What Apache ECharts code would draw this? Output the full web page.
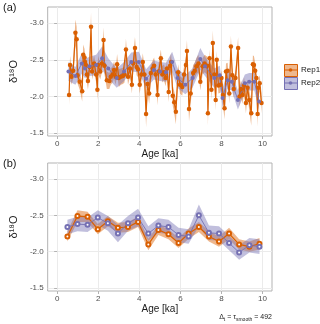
<!DOCTYPE html>
<html>
<head>
<meta charset="utf-8">
<script src="https://cdn.jsdelivr.net/npm/echarts@6/dist/echarts.min.js"></script>
<style>
  html, body { margin: 0; padding: 0; background: #fff; }
  #chart { width: 320px; height: 324px; }
</style>
</head>
<body>
<div id="chart"></div>
<script>
// panel (a): raw records
const rep1Age = [
  0.58, 0.63, 0.70, 0.78, 0.89, 0.95, 0.99, 1.10, 1.22, 1.27,
  1.33, 1.36, 1.40, 1.45, 1.50, 1.58, 1.65, 1.70, 1.80, 1.90,
  1.96, 1.99, 2.10, 2.18, 2.26, 2.30, 2.42, 2.54, 2.61, 2.70,
  2.77, 2.85, 2.92, 3.00, 3.10, 3.20, 3.28, 3.35, 3.45, 3.55,
  3.64, 3.70, 3.79, 3.87, 3.94, 4.02, 4.10, 4.17, 4.25, 4.33,
  4.40, 4.48, 4.56, 4.65, 4.72, 4.80, 4.89, 4.94, 5.05, 5.12,
  5.20, 5.28, 5.35, 5.43, 5.50, 5.55, 5.63, 5.70, 5.78, 5.89,
  5.98, 6.09, 6.18, 6.27, 6.32, 6.42, 6.50, 6.62, 6.70, 6.78,
  6.88, 6.97, 7.08, 7.18, 7.31, 7.34, 7.42, 7.51, 7.58, 7.65,
  7.72, 7.77, 7.85, 7.95, 8.00, 8.07, 8.15, 8.22, 8.30, 8.38,
  8.46, 8.53, 8.60, 8.68, 8.81, 8.88, 8.95, 9.02, 9.10, 9.19,
  9.27, 9.35, 9.45, 9.53, 9.58, 9.64, 9.70, 9.76, 9.80, 9.86,
  9.95
]
const rep1Val = [
  -2.02, -2.43, -2.27, -2.35, -2.87, -2.78, -2.29, -2.20, -2.07, -2.57,
  -2.53, -2.47, -2.43, -2.30, -2.21, -2.40, -2.95, -2.34, -2.45, -2.30,
  -2.09, -2.43, -2.34, -2.45, -2.77, -2.42, -2.22, -2.21, -2.27, -2.30,
  -2.36, -2.27, -2.44, -2.25, -2.27, -2.28, -2.30, -2.64, -2.27, -2.38,
  -2.16, -2.45, -2.66, -2.40, -2.37, -2.16, -2.30, -2.47, -2.30, -1.76,
  -2.17, -2.04, -2.32, -2.38, -2.42, -2.30, -2.02, -2.34, -2.52, -2.30,
  -2.33, -2.25, -2.38, -2.06, -2.42, -2.47, -2.01, -1.92, -1.79, -2.33,
  -2.16, -2.13, -2.30, -2.43, -2.62, -1.83, -2.04, -2.32, -2.35, -2.41,
  -2.45, -2.20, -2.41, -2.45, -2.42, -1.77, -2.52, -2.09, -2.73, -2.30,
  -1.95, -2.50, -2.15, -2.16, -2.25, -2.02, -1.84, -2.34, -2.35, -2.04,
  -2.68, -2.29, -2.10, -2.25, -2.66, -2.00, -2.10, -2.02, -2.15, -1.91,
  -2.12, -1.95, -1.77, -2.44, -2.43, -2.35, -2.25, -1.76, -2.12, -2.18,
  -1.91
]
const rep1Err = [
  0.14, 0.12, 0.11, 0.11, 0.18, 0.17, 0.11, 0.11, 0.14, 0.14,
  0.12, 0.11, 0.11, 0.11, 0.12, 0.12, 0.19, 0.11, 0.11, 0.11,
  0.14, 0.12, 0.11, 0.12, 0.17, 0.11, 0.12, 0.11, 0.11, 0.11,
  0.12, 0.11, 0.14, 0.12, 0.11, 0.11, 0.11, 0.15, 0.11, 0.11,
  0.12, 0.12, 0.15, 0.11, 0.11, 0.12, 0.11, 0.12, 0.11, 0.18,
  0.12, 0.14, 0.11, 0.11, 0.11, 0.11, 0.14, 0.11, 0.12, 0.11,
  0.11, 0.11, 0.11, 0.14, 0.11, 0.12, 0.14, 0.15, 0.17, 0.11,
  0.12, 0.12, 0.11, 0.12, 0.15, 0.17, 0.14, 0.11, 0.11, 0.11,
  0.12, 0.12, 0.11, 0.12, 0.12, 0.17, 0.12, 0.14, 0.17, 0.11,
  0.14, 0.12, 0.11, 0.11, 0.11, 0.14, 0.15, 0.11, 0.11, 0.14,
  0.15, 0.11, 0.12, 0.11, 0.15, 0.14, 0.12, 0.12, 0.11, 0.14,
  0.11, 0.14, 0.17, 0.12, 0.12, 0.11, 0.11, 0.17, 0.12, 0.11,
  0.14
]

const rep2Age = [
  0.55, 0.89, 1.20, 1.35, 1.57, 1.90, 2.19, 2.49, 2.90, 3.26,
  3.61, 3.98, 4.33, 4.71, 5.01, 5.30, 5.60, 5.86, 6.24, 6.59,
  6.97, 7.20, 7.65, 7.92, 8.05, 8.30, 8.50, 8.80, 9.14, 9.35,
  9.60, 9.83
]
const rep2Val = [
  -2.34, -2.28, -2.45, -2.38, -2.41, -2.43, -2.52, -2.38, -2.25, -2.34,
  -2.47, -2.47, -2.24, -2.36, -2.34, -2.33, -2.47, -2.25, -2.16, -2.25,
  -2.51, -2.41, -2.25, -2.29, -1.98, -2.22, -2.20, -1.95, -2.18, -2.20,
  -2.20, -1.93
]
const rep2Err = [
  0.13, 0.12, 0.14, 0.13, 0.13, 0.14, 0.16, 0.14, 0.13, 0.13,
  0.13, 0.14, 0.13, 0.13, 0.13, 0.13, 0.14, 0.13, 0.13, 0.13,
  0.15, 0.13, 0.13, 0.13, 0.13, 0.12, 0.12, 0.13, 0.12, 0.12,
  0.12, 0.12
]

// panel (b): smoothed records
const smAge = [0.50, 0.99, 1.48, 1.98, 2.47, 2.96, 3.45, 3.94, 4.44, 4.93,
  5.42, 5.91, 6.40, 6.90, 7.39, 7.88, 8.37, 8.86, 9.36, 9.85]
const rep1Sm = [-2.21, -2.49, -2.48, -2.31, -2.42, -2.33, -2.34, -2.41, -2.10, -2.30,
  -2.24, -2.12, -2.25, -2.34, -2.21, -2.14, -2.25, -2.10, -2.07, -2.11]
const rep1SmErr = [0.07, 0.08, 0.07, 0.07, 0.07, 0.07, 0.07, 0.07, 0.08, 0.07,
  0.07, 0.07, 0.07, 0.07, 0.07, 0.07, 0.08, 0.07, 0.07, 0.08]
const rep2Sm = [-2.34, -2.38, -2.37, -2.47, -2.39, -2.25, -2.39, -2.47, -2.25, -2.36,
  -2.34, -2.23, -2.21, -2.50, -2.26, -2.25, -2.12, -1.99, -2.09, -2.07]
const rep2SmErr = [0.10, 0.10, 0.10, 0.10, 0.10, 0.12, 0.10, 0.12, 0.10, 0.10,
  0.10, 0.10, 0.10, 0.15, 0.10, 0.10, 0.10, 0.10, 0.10, 0.10]

const xTicks = [0, 2, 4, 6, 8, 10]
const yTicks = [-3.0, -2.5, -2.0, -1.5]

const ORANGE = '#d95f02'
const PURPLE = '#7570b3'
const ORANGE_FILL = 'rgba(217,95,2,0.45)'
const PURPLE_FILL = 'rgba(117,112,179,0.45)'
const FONT = 'Liberation Sans'

const zip = (xs, ys) => xs.map((x, i) => [x, ys[i]])

// ribbon drawn as one polygon through the axis scales
const band = (xs, ys, es, fill, idx) => ({
  type: 'custom',
  xAxisIndex: idx,
  yAxisIndex: idx,
  silent: true,
  clip: true,
  z: 1,
  data: [[xs[0], ys[0]]],
  renderItem: (params, api) => {
    const upper = xs.map((x, i) => api.coord([x, ys[i] - es[i]]))
    const lower = xs.map((x, i) => api.coord([x, ys[i] + es[i]])).reverse()
    return {type: 'polygon', shape: {points: upper.concat(lower)}, style: {fill: fill}}
  }
})

const line = (xs, ys, color, width, idx, symbol) => ({
  type: 'line',
  xAxisIndex: idx,
  yAxisIndex: idx,
  data: zip(xs, ys),
  silent: true,
  z: 2,
  symbol: symbol || 'none',
  symbolSize: 4,
  showSymbol: !!symbol,
  itemStyle: {color: color, borderColor: color, borderWidth: 0.8},
  lineStyle: {color: color, width: width}
})

const dots = (xs, ys, color, size, idx) => ({
  type: 'scatter',
  xAxisIndex: idx,
  yAxisIndex: idx,
  data: zip(xs, ys),
  silent: true,
  z: 3,
  symbol: 'circle',
  symbolSize: size,
  itemStyle: {color: color, opacity: 1}
})

const makeX = (idx) => ({
  type: 'value',
  gridIndex: idx,
  min: -0.46,
  max: 10.46,
  splitNumber: 5,
  axisLine: {show: false},
  axisTick: {show: true, length: 3, customValues: xTicks, lineStyle: {color: '#b3b3b3'}},
  axisLabel: {customValues: xTicks, color: '#4d4d4d', fontSize: 8, margin: 4, fontFamily: FONT},
  splitLine: {show: true, lineStyle: {color: '#ebebeb', width: 1}},
  name: 'Age [ka]',
  nameLocation: 'middle',
  nameGap: 11,
  nameTextStyle: {color: '#1a1a1a', fontSize: 10, fontFamily: FONT, verticalAlign: 'top'}
})

const makeY = (idx) => ({
  type: 'value',
  gridIndex: idx,
  inverse: true,
  min: -3.22,
  max: -1.46,
  splitNumber: 4,
  axisLine: {show: false},
  axisTick: {show: true, length: 3, customValues: yTicks, lineStyle: {color: '#b3b3b3'}},
  axisLabel: {
    customValues: yTicks, color: '#4d4d4d', fontSize: 8, margin: 4, fontFamily: FONT,
    formatter: v => v.toFixed(1)
  },
  splitLine: {show: true, lineStyle: {color: '#ebebeb', width: 1}},
  name: 'δ¹⁸O',
  nameLocation: 'middle',
  nameRotate: 90,
  nameGap: 17,
  nameTextStyle: {color: '#1a1a1a', fontSize: 11, fontFamily: FONT}
})

const legendKey = (y, color, fill, label) => [
  {type: 'rect', left: 284, top: y, shape: {width: 13, height: 12},
    style: {fill: fill, stroke: color, lineWidth: 1}},
  {type: 'line', shape: {x1: 284, y1: y + 6, x2: 297, y2: y + 6},
    style: {stroke: color, lineWidth: 1}},
  {type: 'circle', shape: {cx: 290.5, cy: y + 6, r: 1.8}, style: {fill: color}},
  {type: 'text', left: 301, top: y + 2,
    style: {text: label, fill: '#1a1a1a', fontSize: 8, fontFamily: FONT}}
]

const chart = echarts.init(document.getElementById('chart'), null, {renderer: 'canvas'})

const option = {
  animation: false,
  backgroundColor: '#fff',
  grid: [
    {left: 34, top: 7, width: 238, height: 129, show: true, borderColor: '#b3b3b3', borderWidth: 1},
    {left: 34, top: 163, width: 238, height: 128, show: true, borderColor: '#b3b3b3', borderWidth: 1}
  ],
  xAxis: [makeX(0), makeX(1)],
  yAxis: [makeY(0), makeY(1)],
  series: [
    band(rep1Age, rep1Val, rep1Err, ORANGE_FILL, 0),
    band(rep2Age, rep2Val, rep2Err, PURPLE_FILL, 0),
    line(rep1Age, rep1Val, ORANGE, 1.2, 0),
    line(rep2Age, rep2Val, PURPLE, 0.9, 0),
    dots(rep1Age, rep1Val, ORANGE, 4.5, 0),
    dots(rep2Age, rep2Val, PURPLE, 4, 0),

    band(smAge, rep1Sm, rep1SmErr, ORANGE_FILL, 1),
    band(smAge, rep2Sm, rep2SmErr, PURPLE_FILL, 1),
    line(smAge, rep1Sm, ORANGE, 1.2, 1, 'emptyCircle'),
    line(smAge, rep2Sm, PURPLE, 0.9, 1, 'emptyCircle')
  ],
  graphic: [
    {type: 'text', left: 3, top: 2, style: {text: '(a)', fill: '#1a1a1a', fontSize: 11, fontFamily: FONT}},
    {type: 'text', left: 3, top: 158, style: {text: '(b)', fill: '#1a1a1a', fontSize: 11, fontFamily: FONT}},
    ...legendKey(64, ORANGE, ORANGE_FILL, 'Rep1'),
    ...legendKey(77, PURPLE, PURPLE_FILL, 'Rep2'),
    {
      type: 'text', right: 48, top: 313,
      style: {
        text: '{n|Δ}{s|t}{n| = τ}{s|smooth}{n| = 492}',
        fill: '#1a1a1a',
        fontFamily: FONT,
        rich: {
          n: {fontSize: 7, fontFamily: FONT, fill: '#1a1a1a', lineHeight: 10},
          s: {fontSize: 5, fontFamily: FONT, fill: '#1a1a1a', lineHeight: 10, verticalAlign: 'bottom', padding: [4, 0, 0, 0]}
        }
      }
    }
  ]
}

chart.setOption(option)
window.addEventListener('resize', () => chart.resize())
</script>
</body>
</html>
